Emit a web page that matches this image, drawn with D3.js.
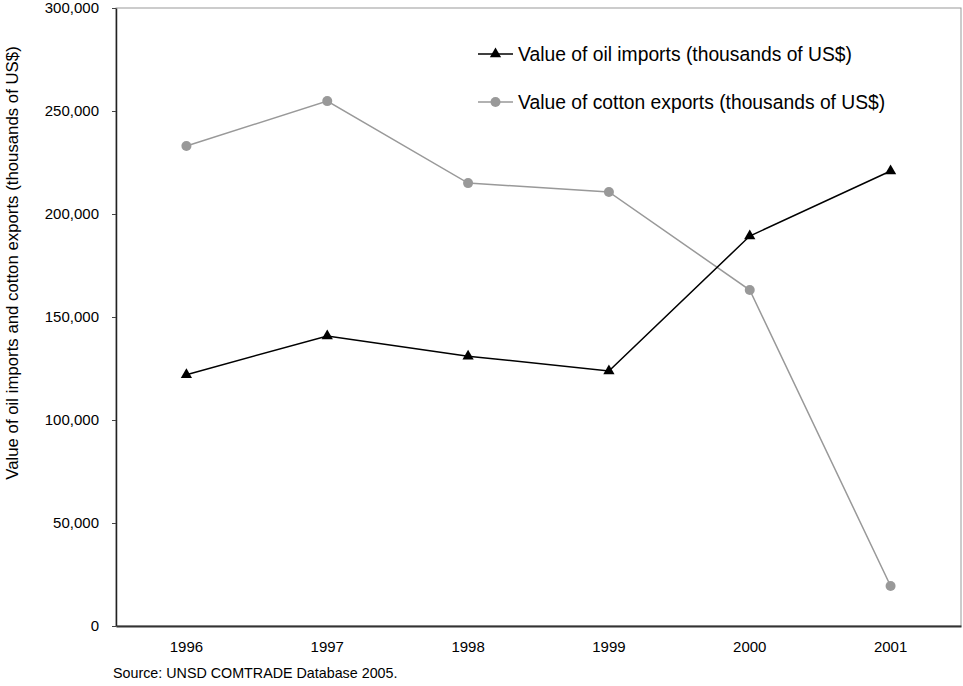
<!DOCTYPE html>
<html><head><meta charset="utf-8">
<script src="https://cdn.jsdelivr.net/npm/d3@7"></script>
<style>body{margin:0;background:#fff;font-family:"Liberation Sans",Arial,sans-serif}</style>
</head><body><svg id="c" width="963" height="686"></svg>
<script>
const years = ["1996","1997","1998","1999","2000","2001"];
const oilImports = [122000, 140800, 131000, 123800, 189300, 220900];
const cottonExports = [233000, 254800, 215000, 210700, 163100, 19400];
const yTicks = [0, 50000, 100000, 150000, 200000, 250000, 300000];
const seriesNames = ["Value of oil imports (thousands of US$)", "Value of cotton exports (thousands of US$)"];

const FF = "Liberation Sans, Arial, sans-serif";
const svg = d3.select("#c");
const m = {l:116, r:961, t:8, b:626};
const x = d3.scaleBand().domain(years).range([m.l, m.r]);
const y = d3.scaleLinear().domain([0, 300000]).range([m.b, m.t]);
const fmt = d3.format(",");

// border
svg.append("rect").attr("x", m.l).attr("y", m.t).attr("width", m.r-m.l).attr("height", m.b-m.t)
  .attr("fill","none").attr("stroke","#999").attr("stroke-width",1);

// y axis
const ya = svg.append("g").attr("transform",`translate(${m.l},0)`)
  .call(d3.axisLeft(y).tickValues(yTicks).tickFormat(fmt).tickSize(4).tickSizeOuter(0));
ya.select(".domain").attr("stroke","#222").attr("stroke-width",1.5);
ya.selectAll(".tick line").attr("stroke","#444");
ya.selectAll("text").attr("font-family",FF).attr("font-size",15).attr("fill","#000").attr("x",-17);

// x axis
const xa = svg.append("g").attr("transform",`translate(0,${m.b})`)
  .call(d3.axisBottom(x).tickSize(0).tickSizeOuter(0));
xa.select(".domain").attr("stroke","#333").attr("stroke-width",2);
xa.selectAll("text").attr("font-family",FF).attr("font-size",15).attr("fill","#000").attr("y",26).attr("dy",0);

const cx = d => x(d) + x.bandwidth()/2;
const line = d3.line().x((d,i)=>cx(years[i])).y(d=>y(d));

// cotton
svg.append("path").datum(cottonExports).attr("d", line).attr("fill","none").attr("stroke","#999").attr("stroke-width",1.5);
svg.selectAll(".cot").data(cottonExports).enter().append("circle")
  .attr("cx",(d,i)=>cx(years[i])).attr("cy",d=>y(d)).attr("r",5).attr("fill","#999");

// oil
svg.append("path").datum(oilImports).attr("d", line).attr("fill","none").attr("stroke","#000").attr("stroke-width",1.5);
const tri = d3.symbol().type(d3.symbolTriangle).size(55);
svg.selectAll(".oil").data(oilImports).enter().append("path")
  .attr("d", tri).attr("transform",(d,i)=>`translate(${cx(years[i])},${y(d)})`).attr("fill","#000");

// legend
const lg = [{c:"#000", s:"tri", yy:54},{c:"#999", s:"circ", yy:102}];
lg.forEach((l,i)=>{
  svg.append("line").attr("x1",478).attr("x2",513).attr("y1",l.yy).attr("y2",l.yy).attr("stroke",l.c).attr("stroke-width",1.5);
  if(l.s==="tri") svg.append("path").attr("d",tri).attr("transform",`translate(495.5,${l.yy})`).attr("fill",l.c);
  else svg.append("circle").attr("cx",495.5).attr("cy",l.yy).attr("r",5).attr("fill",l.c);
  svg.append("text").attr("x",518).attr("y",l.yy+7).attr("font-family",FF).attr("font-size",19.3).attr("fill","#000").text(seriesNames[i]);
});

// y title
svg.append("text").attr("transform","translate(18,263) rotate(-90)").attr("text-anchor","middle")
  .attr("font-family",FF).attr("font-size",16.8).attr("fill","#000").text("Value of oil imports and cotton exports (thousands of US$)");

// source
svg.append("text").attr("x",113).attr("y",678).attr("font-family",FF).attr("font-size",14.3).attr("fill","#000").text("Source: UNSD COMTRADE Database 2005.");
</script></body></html>
